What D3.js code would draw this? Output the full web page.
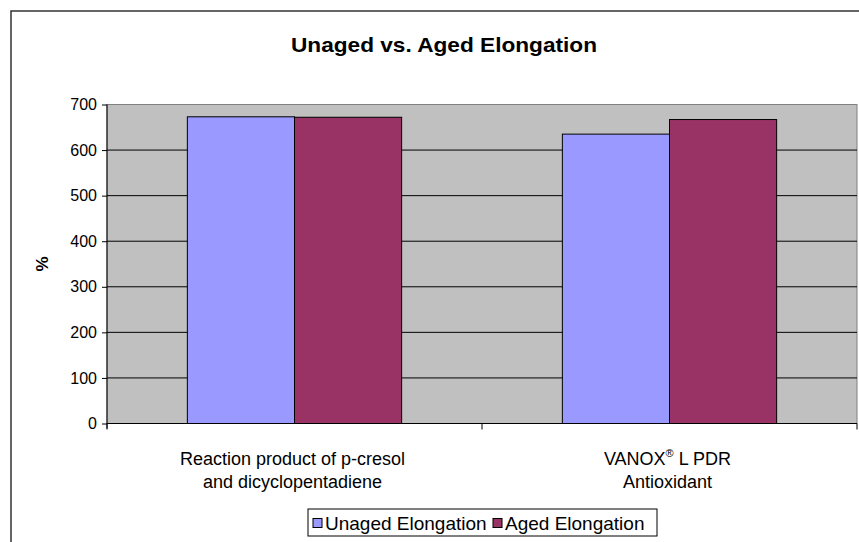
<!DOCTYPE html>
<meta charset="utf-8" />
<style>
  body { margin: 0; background: #fff; }
  text { font-family: Arial, "Liberation Sans", sans-serif; }
</style>
<svg width="859" height="542"></svg>
<script src="https://d3js.org/d3.v7.min.js"></script>
<script>
  var categories = [
    ["Reaction product of p-cresol", "and dicyclopentadiene"],
    ["VANOX\u00AE L PDR", "Antioxidant"]
  ];
  var seriesNames = ["Unaged Elongation", "Aged Elongation"];
  var unaged = [673, 635];
  var aged = [672, 667];
  var yTicks = [0, 100, 200, 300, 400, 500, 600, 700];
  var colors = ["#9999FF", "#993366"];

  var svg = d3.select("svg");
  var margin = { left: 107, right: 2, top: 104.5, bottom: 118.5 };
  var width = 859 - margin.left - margin.right,
    height = 542 - margin.top - margin.bottom;

  // outer chart border (runs off page to right and bottom)
  svg.append("path")
    .attr("d", "M11,560V11H880")
    .attr("fill", "none")
    .attr("stroke", "#333")
    .attr("stroke-width", 1.5);

  svg.append("text")
    .attr("x", 444)
    .attr("y", 52)
    .attr("text-anchor", "middle")
    .attr("font-size", 21)
    .attr("font-weight", "bold")
    .attr("textLength", 306)
    .attr("lengthAdjust", "spacingAndGlyphs")
    .text("Unaged vs. Aged Elongation");

  var g = svg.append("g").attr("transform", "translate(" + margin.left + "," + margin.top + ")");

  var x0 = d3.scaleBand().domain(d3.range(categories.length)).range([0, width]);
  var bw = x0.bandwidth() / 3.5;
  var x1 = d3.scaleBand().domain(d3.range(seriesNames.length)).range([0.75 * bw, 2.75 * bw]);
  var y = d3.scaleLinear().domain([0, 700]).range([height, 0]);

  g.append("rect")
    .attr("width", width)
    .attr("height", height)
    .attr("fill", "#C0C0C0")
    .attr("stroke", "#808080")
    .attr("stroke-width", 1);

  g.selectAll(".grid")
    .data(yTicks.filter(function (d) { return d > 0 && d < 700; }))
    .enter()
    .append("line")
    .attr("x1", 0)
    .attr("x2", width)
    .attr("y1", function (d) { return y(d); })
    .attr("y2", function (d) { return y(d); })
    .attr("stroke", "#000")
    .attr("stroke-width", 1);

  var data = categories.map(function (c, i) { return [unaged[i], aged[i]]; });

  g.selectAll(".grp")
    .data(data)
    .enter()
    .append("g")
    .attr("transform", function (d, i) { return "translate(" + x0(i) + ",0)"; })
    .selectAll("rect")
    .data(function (d) { return d; })
    .enter()
    .append("rect")
    .attr("x", function (d, j) { return x1(j); })
    .attr("width", x1.bandwidth())
    .attr("y", function (d) { return y(d); })
    .attr("height", function (d) { return height - y(d); })
    .attr("fill", function (d, j) { return colors[j]; })
    .attr("stroke", "#000")
    .attr("stroke-width", 1);

  // y axis
  var yAxis = g.append("g")
    .call(d3.axisLeft(y).tickValues(yTicks).tickSize(5).tickPadding(5));
  yAxis.select(".domain").attr("stroke", "#000").attr("d", "M0," + (height + 5) + "V0");
  yAxis.selectAll("text").attr("font-size", 16).attr("font-family", "Arial, 'Liberation Sans', sans-serif").attr("fill", "#000");

  // x axis
  var xAxis = g.append("g").attr("transform", "translate(0," + height + ")");
  xAxis.append("line").attr("x1", 0).attr("x2", width).attr("stroke", "#000");
  xAxis.selectAll(".tk")
    .data([0, 1, 2])
    .enter()
    .append("line")
    .attr("x1", function (d) { return d * x0.step(); })
    .attr("x2", function (d) { return d * x0.step(); })
    .attr("y1", 0)
    .attr("y2", 6)
    .attr("stroke", "#000");

  var labels = xAxis.selectAll(".lab")
    .data(categories)
    .enter()
    .append("text")
    .attr("text-anchor", "middle")
    .attr("font-size", 18)
    .attr("fill", "#000");
  labels.each(function (c, i) {
    var t = d3.select(this);
    var cx = x0(i) + x0.bandwidth() / 2 - 2;
    c.forEach(function (line, k) {
      var ts = t.append("tspan").attr("x", cx).attr("y", 41 + k * 23);
      if (line.indexOf("\u00AE") >= 0) {
        var parts = line.split("\u00AE");
        ts.append("tspan").text(parts[0]);
        ts.append("tspan").attr("font-size", 11).attr("dy", -8).text("\u00AE");
        ts.append("tspan").attr("dy", 8).text(parts[1]);
      } else {
        ts.text(line);
      }
    });
  });

  // y axis title
  svg.append("text")
    .attr("transform", "translate(48," + (margin.top + height / 2) + ") rotate(-90)")
    .attr("text-anchor", "middle")
    .attr("font-size", 17)
    .attr("font-weight", "bold")
    .text("%");

  // legend
  var leg = svg.append("g").attr("transform", "translate(308,509)");
  leg.append("rect").attr("width", 349).attr("height", 27).attr("fill", "#fff").attr("stroke", "#000");
  var items = leg.selectAll(".it")
    .data(seriesNames)
    .enter()
    .append("g")
    .attr("transform", function (d, i) { return "translate(" + (5 + i * 180) + ",0)"; });
  items.append("rect")
    .attr("y", 9.5)
    .attr("width", 9)
    .attr("height", 9)
    .attr("fill", function (d, i) { return colors[i]; })
    .attr("stroke", "#000");
  items.append("text")
    .attr("x", 12)
    .attr("y", 20.5)
    .attr("font-size", 19)
    .text(function (d) { return d; });
</script>
